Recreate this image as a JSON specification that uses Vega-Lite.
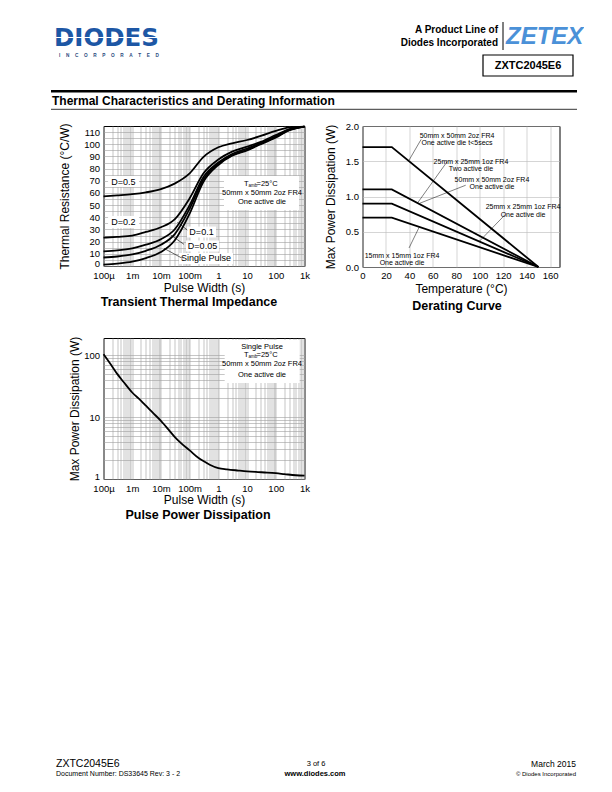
{
  "$schema": "https://vega.github.io/schema/vega-lite/v6.json",
  "usermeta": {"embedOptions": {"actions": false}},
  "background": "white",
  "padding": {"left": 49.5, "top": 20, "right": 0, "bottom": 0},
  "columns": 2,
  "bounds": "flush",
  "spacing": {"row": 71, "column": 58},
  "config": {
    "font": "Liberation Sans",
    "axis": {"labelFont": "Liberation Sans", "titleFont": "Liberation Sans", "labelColor": "black", "titleColor": "black", "labelFontSize": 9.5, "titleFontSize": 12, "titleFontWeight": "normal", "ticks": false, "tickSize": 0, "domain": false, "gridColor": "#a0a0a0", "gridWidth": 0.6, "gridOpacity": 1, "labelFlush": false, "labelOverlap": false, "labelBound": false},
    "title": {"font": "Liberation Sans", "fontSize": 12.5, "fontWeight": "bold", "color": "black"},
    "text": {"font": "Liberation Sans", "color": "black"}
  },
  "concat": [
    {
      "width": 201, "height": 35,
      "view": {"stroke": null},
      "data": {"values": [{}]},
      "layer": [
        {"mark": {"type": "text", "text": "DIODES", "align": "left", "baseline": "middle", "fontSize": 24.5, "fontWeight": "bold", "font": "DejaVu Sans", "color": "#1d57a5"},
         "encoding": {"x": {"datum": 55, "type": "quantitative", "scale": {"domain": [104.5, 305.5], "nice": false, "zero": false}, "axis": null},
                      "y": {"datum": 39, "type": "quantitative", "scale": {"domain": [20, 55], "reverse": true, "nice": false, "zero": false}, "axis": null}}},
        {"mark": {"type": "rule", "color": "white", "strokeWidth": 1.2},
         "encoding": {"x": {"datum": 57, "type": "quantitative", "scale": {"domain": [104.5, 305.5], "nice": false, "zero": false}, "axis": null}, "x2": {"datum": 160},
                      "y": {"datum": 37.5, "type": "quantitative", "scale": {"domain": [20, 55], "reverse": true, "nice": false, "zero": false}, "axis": null}}},
        {"mark": {"type": "text", "text": "I\u2003\u2009N\u2003\u2009C\u2003\u2009O\u2003\u2009R\u2003\u2009P\u2003\u2009O\u2003\u2009R\u2003\u2009A\u2003\u2009T\u2003\u2009E\u2003\u2009D", "align": "left", "baseline": "middle", "fontSize": 4.7, "fontWeight": "bold", "color": "#2a4a80"},
         "encoding": {"x": {"datum": 60, "type": "quantitative", "scale": {"domain": [104.5, 305.5], "nice": false, "zero": false}, "axis": null},
                      "y": {"datum": 55.5, "type": "quantitative", "scale": {"domain": [20, 55], "reverse": true, "nice": false, "zero": false}, "axis": null}}},
        {"mark": {"type": "rule", "color": "black", "strokeWidth": 2.5},
         "encoding": {"x": {"datum": 52, "type": "quantitative", "scale": {"domain": [104.5, 305.5], "nice": false, "zero": false}, "axis": null}, "x2": {"datum": 578},
                      "y": {"datum": 91.3, "type": "quantitative", "scale": {"domain": [20, 55], "reverse": true, "nice": false, "zero": false}, "axis": null}}},
        {"mark": {"type": "text", "text": "Thermal Characteristics and Derating Information", "align": "left", "baseline": "middle", "fontSize": 12, "fontWeight": "bold"},
         "encoding": {"x": {"datum": 53, "type": "quantitative", "scale": {"domain": [104.5, 305.5], "nice": false, "zero": false}, "axis": null},
                      "y": {"datum": 101, "type": "quantitative", "scale": {"domain": [20, 55], "reverse": true, "nice": false, "zero": false}, "axis": null}}},
        {"mark": {"type": "rule", "color": "black", "strokeWidth": 0.8},
         "encoding": {"x": {"datum": 52, "type": "quantitative", "scale": {"domain": [104.5, 305.5], "nice": false, "zero": false}, "axis": null}, "x2": {"datum": 578},
                      "y": {"datum": 109.3, "type": "quantitative", "scale": {"domain": [20, 55], "reverse": true, "nice": false, "zero": false}, "axis": null}}}
      ]
    },
    {
      "width": 197, "height": 35,
      "view": {"stroke": null},
      "data": {"values": [{}]},
      "layer": [
        {"mark": {"type": "text", "text": "A Product Line of", "align": "right", "baseline": "middle", "fontSize": 10, "fontWeight": "bold"},
         "encoding": {"x": {"datum": 499, "type": "quantitative", "scale": {"domain": [363.5, 560.5], "nice": false, "zero": false}, "axis": null},
                      "y": {"datum": 29.5, "type": "quantitative", "scale": {"domain": [20, 55], "reverse": true, "nice": false, "zero": false}, "axis": null}}},
        {"mark": {"type": "text", "text": "Diodes Incorporated", "align": "right", "baseline": "middle", "fontSize": 10, "fontWeight": "bold"},
         "encoding": {"x": {"datum": 499, "type": "quantitative", "scale": {"domain": [363.5, 560.5], "nice": false, "zero": false}, "axis": null},
                      "y": {"datum": 42.5, "type": "quantitative", "scale": {"domain": [20, 55], "reverse": true, "nice": false, "zero": false}, "axis": null}}},
        {"mark": {"type": "rule", "color": "black", "strokeWidth": 1},
         "encoding": {"x": {"datum": 504, "type": "quantitative", "scale": {"domain": [363.5, 560.5], "nice": false, "zero": false}, "axis": null},
                      "y": {"datum": 22, "type": "quantitative", "scale": {"domain": [20, 55], "reverse": true, "nice": false, "zero": false}, "axis": null}, "y2": {"datum": 50}}},
        {"mark": {"type": "text", "text": "ZETEX", "align": "left", "baseline": "middle", "fontSize": 24, "fontWeight": "bold", "fontStyle": "italic", "color": "#4b91d8"},
         "encoding": {"x": {"datum": 507, "type": "quantitative", "scale": {"domain": [363.5, 560.5], "nice": false, "zero": false}, "axis": null},
                      "y": {"datum": 36.5, "type": "quantitative", "scale": {"domain": [20, 55], "reverse": true, "nice": false, "zero": false}, "axis": null}}},
        {"mark": {"type": "rect", "filled": false, "stroke": "black", "strokeWidth": 1.2},
         "encoding": {"x": {"datum": 484, "type": "quantitative", "scale": {"domain": [363.5, 560.5], "nice": false, "zero": false}, "axis": null}, "x2": {"datum": 574},
                      "y": {"datum": 55, "type": "quantitative", "scale": {"domain": [20, 55], "reverse": true, "nice": false, "zero": false}, "axis": null}, "y2": {"datum": 76}}},
        {"mark": {"type": "text", "text": "ZXTC2045E6", "align": "center", "baseline": "middle", "fontSize": 11, "fontWeight": "bold"},
         "encoding": {"x": {"datum": 529, "type": "quantitative", "scale": {"domain": [363.5, 560.5], "nice": false, "zero": false}, "axis": null},
                      "y": {"datum": 66, "type": "quantitative", "scale": {"domain": [20, 55], "reverse": true, "nice": false, "zero": false}, "axis": null}}}
      ]
    },
    {
      "width": 201, "height": 140,
      "view": {"stroke": "black", "strokeWidth": 1},
      "title": {"text": "Transient Thermal Impedance", "orient": "bottom", "frame": "group", "anchor": "middle", "offset": 3, "dx": -15},
      "encoding": {
        "x": {"field": "t", "type": "quantitative", "scale": {"type": "log", "domain": [0.0001, 1000], "nice": false},
              "axis": {"title": "Pulse Width (s)", "titleY": 21.3, "titleBaseline": "middle", "labelPadding": 4.5, "grid": true,
                       "values": [0.0001,0.0002,0.0003,0.0004,0.0005,0.0006,0.0007,0.0008,0.0009,0.001,0.002,0.003,0.004,0.005,0.006,0.007,0.008,0.009,0.01,0.02,0.03,0.04,0.05,0.06,0.07,0.08,0.09,0.1,0.2,0.3,0.4,0.5,0.6,0.7,0.8,0.9,1,2,3,4,5,6,7,8,9,10,20,30,40,50,60,70,80,90,100,200,300,400,500,600,700,800,900,1000],
                       "labelExpr": "datum.value == 0.0001 ? '100µ' : datum.value == 0.001 ? '1m' : datum.value == 0.01 ? '10m' : datum.value == 0.1 ? '100m' : datum.value == 1 ? '1' : datum.value == 10 ? '10' : datum.value == 100 ? '100' : datum.value == 1000 ? '1k' : ''"}},
        "y": {"field": "r", "type": "quantitative", "scale": {"domain": [0, 115], "nice": false, "zero": false},
              "axis": {"title": "Thermal Resistance (°C/W)", "titleX": -39.5, "titleBaseline": "middle", "labelPadding": 4, "grid": true,
                       "labelOffset": {"condition": {"test": "datum.value == 0", "value": -2.5}, "value": 0},
                       "values": [0,5,10,15,20,25,30,35,40,45,50,55,60,65,70,75,80,85,90,95,100,105,110],
                       "labelExpr": "datum.value % 10 == 0 ? datum.label : ''"}}
      },
      "layer": [
        {"data": {"values": [
          {"t": 0.000144, "t2": 0.00172, "r": 64.9, "r2": 73.9},
          {"t": 0.000144, "t2": 0.00172, "r": 31.2, "r2": 41.1},
          {"t": 0.0809, "t2": 0.828, "r": 23.4, "r2": 32.4},
          {"t": 0.0747, "t2": 1.05, "r": 11.9, "r2": 20.95},
          {"t": 0.0426, "t2": 3.24, "r": 1.6, "r2": 10.7},
          {"t": 1.573, "t2": 642.7, "r": 46.0, "r2": 73.9}
        ]},
         "mark": {"type": "rect", "fill": "white"},
         "encoding": {"x2": {"field": "t2"}, "y2": {"field": "r2"}}},
        {"data": {"values": [
          {"s": "D=0.5", "t": 0.0001, "r": 57.2}, {"s": "D=0.5", "t": 0.0003, "r": 58}, {"s": "D=0.5", "t": 0.001, "r": 59}, {"s": "D=0.5", "t": 0.003, "r": 60.5}, {"s": "D=0.5", "t": 0.01, "r": 63.2}, {"s": "D=0.5", "t": 0.03, "r": 67.7}, {"s": "D=0.5", "t": 0.1, "r": 76.1}, {"s": "D=0.5", "t": 0.3, "r": 89.5}, {"s": "D=0.5", "t": 1, "r": 97.5}, {"s": "D=0.5", "t": 3, "r": 100.8}, {"s": "D=0.5", "t": 10, "r": 103.5}, {"s": "D=0.5", "t": 30, "r": 106.8}, {"s": "D=0.5", "t": 100, "r": 111}, {"s": "D=0.5", "t": 300, "r": 113.8}, {"s": "D=0.5", "t": 1000, "r": 114.5},
          {"s": "D=0.2", "t": 0.0001, "r": 23.3}, {"s": "D=0.2", "t": 0.0003, "r": 24}, {"s": "D=0.2", "t": 0.001, "r": 25}, {"s": "D=0.2", "t": 0.003, "r": 28}, {"s": "D=0.2", "t": 0.01, "r": 31.8}, {"s": "D=0.2", "t": 0.03, "r": 38.3}, {"s": "D=0.2", "t": 0.1, "r": 55.6}, {"s": "D=0.2", "t": 0.3, "r": 76}, {"s": "D=0.2", "t": 1, "r": 87.5}, {"s": "D=0.2", "t": 3, "r": 94}, {"s": "D=0.2", "t": 10, "r": 98}, {"s": "D=0.2", "t": 30, "r": 102}, {"s": "D=0.2", "t": 100, "r": 107.6}, {"s": "D=0.2", "t": 300, "r": 112.5}, {"s": "D=0.2", "t": 1000, "r": 114.5},
          {"s": "D=0.1", "t": 0.0001, "r": 12}, {"s": "D=0.1", "t": 0.0003, "r": 12.8}, {"s": "D=0.1", "t": 0.001, "r": 14.5}, {"s": "D=0.1", "t": 0.003, "r": 17.5}, {"s": "D=0.1", "t": 0.01, "r": 22}, {"s": "D=0.1", "t": 0.03, "r": 30}, {"s": "D=0.1", "t": 0.1, "r": 50}, {"s": "D=0.1", "t": 0.3, "r": 73}, {"s": "D=0.1", "t": 1, "r": 85}, {"s": "D=0.1", "t": 3, "r": 92}, {"s": "D=0.1", "t": 10, "r": 96.5}, {"s": "D=0.1", "t": 30, "r": 101}, {"s": "D=0.1", "t": 100, "r": 106.5}, {"s": "D=0.1", "t": 300, "r": 112}, {"s": "D=0.1", "t": 1000, "r": 114.5},
          {"s": "D=0.05", "t": 0.0001, "r": 7}, {"s": "D=0.05", "t": 0.0003, "r": 7.8}, {"s": "D=0.05", "t": 0.001, "r": 9.5}, {"s": "D=0.05", "t": 0.003, "r": 12.5}, {"s": "D=0.05", "t": 0.01, "r": 17.5}, {"s": "D=0.05", "t": 0.03, "r": 26}, {"s": "D=0.05", "t": 0.1, "r": 47}, {"s": "D=0.05", "t": 0.3, "r": 71}, {"s": "D=0.05", "t": 1, "r": 84}, {"s": "D=0.05", "t": 3, "r": 91}, {"s": "D=0.05", "t": 10, "r": 95.5}, {"s": "D=0.05", "t": 30, "r": 100.5}, {"s": "D=0.05", "t": 100, "r": 106}, {"s": "D=0.05", "t": 300, "r": 111.8}, {"s": "D=0.05", "t": 1000, "r": 114.5},
          {"s": "Single", "t": 0.0001, "r": 1.2}, {"s": "Single", "t": 0.0003, "r": 2}, {"s": "Single", "t": 0.001, "r": 3.5}, {"s": "Single", "t": 0.003, "r": 6.5}, {"s": "Single", "t": 0.01, "r": 11.5}, {"s": "Single", "t": 0.03, "r": 21}, {"s": "Single", "t": 0.1, "r": 43}, {"s": "Single", "t": 0.3, "r": 69}, {"s": "Single", "t": 1, "r": 83}, {"s": "Single", "t": 3, "r": 90.5}, {"s": "Single", "t": 10, "r": 95}, {"s": "Single", "t": 30, "r": 100}, {"s": "Single", "t": 100, "r": 105.5}, {"s": "Single", "t": 300, "r": 111.5}, {"s": "Single", "t": 1000, "r": 114.5}
        ]},
         "mark": {"type": "line", "color": "black", "strokeWidth": 1.8, "interpolate": "monotone"},
         "encoding": {"detail": {"field": "s"}}},
        {"data": {"values": [
          {"t": 0.0828, "r": 29.6, "t2": 0.0372, "r2": 35.9},
          {"t": 0.0635, "r": 17.8, "t2": 0.0219, "r2": 25.5},
          {"t": 0.0555, "r": 6.3, "t2": 0.0128, "r2": 14.5}
        ]},
         "mark": {"type": "rule", "color": "black", "strokeWidth": 0.6},
         "encoding": {"x2": {"field": "t2"}, "y2": {"field": "r2"}}},
        {"data": {"values": [
          {"label": "D=0.5", "t": 0.000497, "r": 69.4},
          {"label": "D=0.2", "t": 0.000497, "r": 36.1},
          {"label": "D=0.1", "t": 0.259, "r": 27.9},
          {"label": "D=0.05", "t": 0.2806, "r": 16.4},
          {"label": "Single Pulse", "t": 0.3716, "r": 6.2}
        ]},
         "mark": {"type": "text", "fontSize": 9, "align": "center", "baseline": "middle"},
         "encoding": {"text": {"field": "label"}}},
        {"data": {"values": [
          {"label": "50mm x 50mm 2oz FR4", "t": 33.1, "r": 60.0},
          {"label": "One active die", "t": 33.1, "r": 52.6}
        ]},
         "mark": {"type": "text", "fontSize": 7.5, "align": "center", "baseline": "middle"},
         "encoding": {"text": {"field": "label"}}},
        {"data": {"values": [{"label": "T", "t": 11.2, "r": 67.4}]},
         "mark": {"type": "text", "fontSize": 7.5, "align": "right", "baseline": "middle"},
         "encoding": {"text": {"field": "label"}}},
        {"data": {"values": [{"label": "amb", "t": 11.2, "r": 65.7}]},
         "mark": {"type": "text", "fontSize": 4.5, "align": "left", "baseline": "middle"},
         "encoding": {"text": {"field": "label"}}},
        {"data": {"values": [{"label": "=25°C", "t": 21.3, "r": 67.4}]},
         "mark": {"type": "text", "fontSize": 7.5, "align": "left", "baseline": "middle"},
         "encoding": {"text": {"field": "label"}}}
      ]
    },
    {
      "width": 197, "height": 141,
      "view": {"stroke": "black", "strokeWidth": 1},
      "title": {"text": "Derating Curve", "orient": "bottom", "frame": "group", "anchor": "middle", "offset": 6, "dx": -4},
      "encoding": {
        "x": {"field": "T", "type": "quantitative", "scale": {"domain": [0, 168], "nice": false},
              "axis": {"title": "Temperature (°C)", "titleY": 21.3, "titleBaseline": "middle", "labelPadding": 3, "grid": true, "gridColor": "#b8b8b8",
                       "values": [0,20,40,60,80,100,120,140,160]}},
        "y": {"field": "P", "type": "quantitative", "scale": {"domain": [0, 2], "nice": false},
              "axis": {"title": "Max Power Dissipation (W)", "titleX": -31.8, "titleBaseline": "middle", "labelPadding": 4, "grid": true, "gridColor": "#b8b8b8",
                       "values": [0, 0.5, 1, 1.5, 2], "format": ".1f"}}
      },
      "layer": [
        {"data": {"values": [
          {"s": "a", "T": 0, "P": 1.7}, {"s": "a", "T": 25, "P": 1.7}, {"s": "a", "T": 150, "P": 0},
          {"s": "b", "T": 0, "P": 1.1}, {"s": "b", "T": 25, "P": 1.1}, {"s": "b", "T": 150, "P": 0},
          {"s": "c", "T": 0, "P": 0.9}, {"s": "c", "T": 25, "P": 0.9}, {"s": "c", "T": 150, "P": 0},
          {"s": "d", "T": 0, "P": 0.7}, {"s": "d", "T": 25, "P": 0.7}, {"s": "d", "T": 150, "P": 0}
        ]},
         "mark": {"type": "line", "color": "black", "strokeWidth": 1.8},
         "encoding": {"detail": {"field": "s"}}},
        {"data": {"values": [
          {"T": 50, "P": 1.81, "T2": 39.5, "P2": 1.51},
          {"T": 72, "P": 1.49, "T2": 47, "P2": 0.91},
          {"T": 88, "P": 1.16, "T2": 49, "P2": 0.905},
          {"T": 121.5, "P": 0.74, "T2": 99.4, "P2": 0.36},
          {"T": 39.7, "P": 0.27, "T2": 48.5, "P2": 0.57}
        ]},
         "mark": {"type": "rule", "color": "black", "strokeWidth": 0.5},
         "encoding": {"x2": {"field": "T2"}, "y2": {"field": "P2"}}},
        {"data": {"values": [
          {"label": "50mm x 50mm 2oz FR4\nOne active die t<5secs", "T": 80.6, "P": 1.865},
          {"label": "25mm x 25mm 1oz FR4\nTwo active die", "T": 92.5, "P": 1.496},
          {"label": "50mm x 50mm 2oz FR4\nOne active die", "T": 110.4, "P": 1.241},
          {"label": "25mm x 25mm 1oz FR4\nOne active die", "T": 136.9, "P": 0.851},
          {"label": "15mm x 15mm 1oz FR4\nOne active die", "T": 33.7, "P": 0.163}
        ]},
         "mark": {"type": "text", "fontSize": 7, "align": "center", "baseline": "middle", "lineBreak": "\n", "lineHeight": 7.5},
         "encoding": {"text": {"field": "label"}}}
      ]
    },
    {
      "width": 201, "height": 141,
      "view": {"stroke": "black", "strokeWidth": 1},
      "title": {"text": "Pulse Power Dissipation", "orient": "bottom", "frame": "group", "anchor": "middle", "offset": 4, "dx": -6},
      "encoding": {
        "x": {"field": "t", "type": "quantitative", "scale": {"type": "log", "domain": [0.0001, 1000], "nice": false},
              "axis": {"title": "Pulse Width (s)", "titleY": 20.3, "titleBaseline": "middle", "labelPadding": 4.5, "grid": true,
                       "values": [0.0001,0.0002,0.0003,0.0004,0.0005,0.0006,0.0007,0.0008,0.0009,0.001,0.002,0.003,0.004,0.005,0.006,0.007,0.008,0.009,0.01,0.02,0.03,0.04,0.05,0.06,0.07,0.08,0.09,0.1,0.2,0.3,0.4,0.5,0.6,0.7,0.8,0.9,1,2,3,4,5,6,7,8,9,10,20,30,40,50,60,70,80,90,100,200,300,400,500,600,700,800,900,1000],
                       "labelExpr": "datum.value == 0.0001 ? '100µ' : datum.value == 0.001 ? '1m' : datum.value == 0.01 ? '10m' : datum.value == 0.1 ? '100m' : datum.value == 1 ? '1' : datum.value == 10 ? '10' : datum.value == 100 ? '100' : datum.value == 1000 ? '1k' : ''"}},
        "y": {"field": "P", "type": "quantitative", "scale": {"type": "log", "domain": [1, 190], "nice": false},
              "axis": {"title": "Max Power Dissipation (W)", "titleX": -29.5, "titleBaseline": "middle", "labelPadding": 4, "grid": true,
                       "labelOffset": {"condition": {"test": "datum.value == 1", "value": -2.5}, "value": 0},
                       "values": [1,2,3,4,5,6,7,8,9,10,20,30,40,50,60,70,80,90,100],
                       "labelExpr": "datum.value == 1 ? '1' : datum.value == 10 ? '10' : datum.value == 100 ? '100' : ''"}}
      },
      "layer": [
        {"data": {"values": [{"t": 1.66, "t2": 680, "P": 35.6, "P2": 176.4}]},
         "mark": {"type": "rect", "fill": "white"},
         "encoding": {"x2": {"field": "t2"}, "y2": {"field": "P2"}}},
        {"data": {"values": [
          {"t": 0.0001, "P": 104}, {"t": 0.0002, "P": 66}, {"t": 0.0003, "P": 50}, {"t": 0.0005, "P": 37}, {"t": 0.001, "P": 25}, {"t": 0.002, "P": 18.5}, {"t": 0.003, "P": 15.3}, {"t": 0.005, "P": 12}, {"t": 0.01, "P": 8.7}, {"t": 0.02, "P": 6}, {"t": 0.03, "P": 4.8}, {"t": 0.05, "P": 3.8}, {"t": 0.1, "P": 2.9}, {"t": 0.2, "P": 2.2}, {"t": 0.3, "P": 1.95}, {"t": 0.5, "P": 1.7}, {"t": 1, "P": 1.5}, {"t": 2, "P": 1.43}, {"t": 5, "P": 1.37}, {"t": 10, "P": 1.33}, {"t": 20, "P": 1.3}, {"t": 50, "P": 1.27}, {"t": 100, "P": 1.24}, {"t": 200, "P": 1.2}, {"t": 500, "P": 1.15}, {"t": 1000, "P": 1.13}
        ]},
         "mark": {"type": "line", "color": "black", "strokeWidth": 1.8, "interpolate": "monotone"}},
        {"data": {"values": [
          {"label": "Single Pulse", "t": 33.1, "P": 135.9},
          {"label": "50mm x 50mm 2oz FR4", "t": 33.1, "P": 72.2},
          {"label": "One active die", "t": 33.1, "P": 48.0}
        ]},
         "mark": {"type": "text", "fontSize": 7.5, "align": "center", "baseline": "middle"},
         "encoding": {"text": {"field": "label"}}},
        {"data": {"values": [{"label": "T", "t": 11.2, "P": 100.9}]},
         "mark": {"type": "text", "fontSize": 7.5, "align": "right", "baseline": "middle"},
         "encoding": {"text": {"field": "label"}}},
        {"data": {"values": [{"label": "amb", "t": 11.2, "P": 93.7}]},
         "mark": {"type": "text", "fontSize": 4.5, "align": "left", "baseline": "middle"},
         "encoding": {"text": {"field": "label"}}},
        {"data": {"values": [{"label": "=25°C", "t": 21.3, "P": 100.9}]},
         "mark": {"type": "text", "fontSize": 7.5, "align": "left", "baseline": "middle"},
         "encoding": {"text": {"field": "label"}}}
      ]
    },
    {
      "width": 197, "height": 141,
      "view": {"stroke": null},
      "data": {"values": [{}]},
      "layer": [
        {"mark": {"type": "text", "text": "ZXTC2045E6", "align": "left", "baseline": "middle", "fontSize": 10.5},
         "encoding": {"x": {"datum": 57, "type": "quantitative", "scale": {"domain": [363.5, 560.5], "nice": false, "zero": false}, "axis": null},
                      "y": {"datum": 763.5, "type": "quantitative", "scale": {"domain": [338, 479], "reverse": true, "nice": false, "zero": false}, "axis": null}}},
        {"mark": {"type": "text", "text": "Document Number: DS33645 Rev: 3 - 2", "align": "left", "baseline": "middle", "fontSize": 7},
         "encoding": {"x": {"datum": 57, "type": "quantitative", "scale": {"domain": [363.5, 560.5], "nice": false, "zero": false}, "axis": null},
                      "y": {"datum": 773.5, "type": "quantitative", "scale": {"domain": [338, 479], "reverse": true, "nice": false, "zero": false}, "axis": null}}},
        {"mark": {"type": "text", "text": "3 of 6", "align": "center", "baseline": "middle", "fontSize": 7.5},
         "encoding": {"x": {"datum": 317, "type": "quantitative", "scale": {"domain": [363.5, 560.5], "nice": false, "zero": false}, "axis": null},
                      "y": {"datum": 763.5, "type": "quantitative", "scale": {"domain": [338, 479], "reverse": true, "nice": false, "zero": false}, "axis": null}}},
        {"mark": {"type": "text", "text": "www.diodes.com", "align": "center", "baseline": "middle", "fontSize": 7.5, "fontWeight": "bold"},
         "encoding": {"x": {"datum": 316, "type": "quantitative", "scale": {"domain": [363.5, 560.5], "nice": false, "zero": false}, "axis": null},
                      "y": {"datum": 773.5, "type": "quantitative", "scale": {"domain": [338, 479], "reverse": true, "nice": false, "zero": false}, "axis": null}}},
        {"mark": {"type": "text", "text": "March 2015", "align": "right", "baseline": "middle", "fontSize": 8.5},
         "encoding": {"x": {"datum": 577, "type": "quantitative", "scale": {"domain": [363.5, 560.5], "nice": false, "zero": false}, "axis": null},
                      "y": {"datum": 763.5, "type": "quantitative", "scale": {"domain": [338, 479], "reverse": true, "nice": false, "zero": false}, "axis": null}}},
        {"mark": {"type": "text", "text": "© Diodes Incorporated", "align": "right", "baseline": "middle", "fontSize": 6},
         "encoding": {"x": {"datum": 577, "type": "quantitative", "scale": {"domain": [363.5, 560.5], "nice": false, "zero": false}, "axis": null},
                      "y": {"datum": 773.5, "type": "quantitative", "scale": {"domain": [338, 479], "reverse": true, "nice": false, "zero": false}, "axis": null}}}
      ]
    }
  ]
}
